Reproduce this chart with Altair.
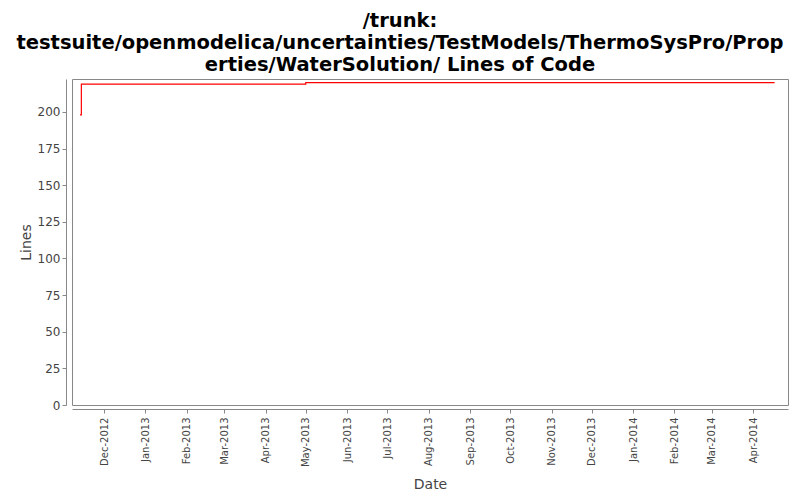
import altair as alt
import pandas as pd

dates = ["2012-11-13", "2012-11-14", "2013-05-01", "2014-04-17"]
lines = [198, 219, 220, 220]

df = pd.DataFrame({"Date": pd.to_datetime(dates), "Lines": lines})

month_ticks = [f"{y}-{m:02d}-01" for y, m in
               [(2012, 12)] + [(2013, m) for m in range(1, 13)] + [(2014, m) for m in range(1, 5)]]

chart = alt.Chart(df).mark_line(color="#ff0000", strokeWidth=1.2, interpolate="step-after").encode(
    x=alt.X("Date:T",
            scale=alt.Scale(domain=["2012-11-07", "2014-04-27"]),
            axis=alt.Axis(values=month_ticks, format="%b-%Y", labelAngle=-90, grid=False,
                          offset=4, tickSize=4, labelPadding=4,
                          labelFont="DejaVu Sans", labelFontSize=10, labelColor="#444444",
                          title="Date", titleFont="DejaVu Sans", titleFontSize=14,
                          titleFontWeight="normal", titleColor="#444444", titlePadding=11,
                          domainColor="#888888", tickColor="#888888")),
    y=alt.Y("Lines:Q",
            scale=alt.Scale(domain=[0, 222.5], nice=False),
            axis=alt.Axis(values=list(range(0, 201, 25)), grid=False, offset=6, tickSize=4,
                          labelFont="DejaVu Sans", labelFontSize=12, labelColor="#444444",
                          title="Lines", titleFont="DejaVu Sans", titleFontSize=14,
                          titleFontWeight="normal", titleColor="#444444",
                          domainColor="#888888", tickColor="#888888")),
).properties(
    width=716,
    height=326,
    autosize=alt.AutoSizeParams(type="none"),
    padding={"left": 64, "top": 71, "right": 4, "bottom": 90},
    title=alt.TitleParams(
        text=["/trunk:",
              "testsuite/openmodelica/uncertainties/TestModels/ThermoSysPro/Prop",
              "erties/WaterSolution/ Lines of Code"],
        font="DejaVu Sans", fontSize=19.5, fontWeight="bold", color="#000000",
        anchor="middle", dx=-30, lineHeight=22, offset=4),
).configure(background="white").configure_view(stroke="#888888", strokeWidth=1)

chart.save("out.html", embed_options={"renderer": "svg", "actions": False})
